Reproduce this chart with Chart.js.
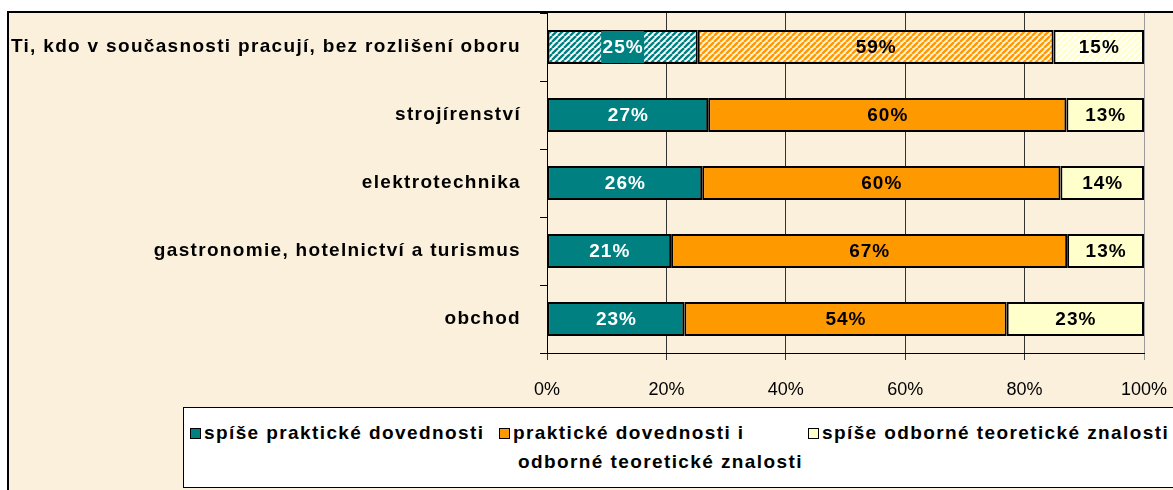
<!DOCTYPE html>
<html><head><meta charset="utf-8">
<script src="https://cdn.jsdelivr.net/npm/chart.js@4.4.1/dist/chart.umd.min.js"></script>
<style>
html,body{margin:0;padding:0;background:#fff;}
#wrap{position:relative;width:1173px;height:490px;overflow:hidden;}
#c{position:absolute;left:0;top:0;}
#legend{position:absolute;left:183px;top:407px;width:1100px;height:79px;background:#fff;border:1px solid #000;
  font:bold 19px "Liberation Sans",Arial,sans-serif;letter-spacing:1.4px;color:#000;}
.it{position:absolute;white-space:nowrap;line-height:20px;}
.sw{position:absolute;width:9px;height:9px;border:1px solid #000;}
</style></head>
<body>
<div id="wrap"><canvas id="c" width="1173" height="490"></canvas><div id="legend"></div></div>
<script>
const categories = ["Ti, kdo v současnosti pracují, bez rozlišení oboru","strojírenství","elektrotechnika","gastronomie, hotelnictví a turismus","obchod"];
const seriesNames = ["spíše praktické dovednosti","praktické dovednosti i odborné teoretické znalosti","spíše odborné teoretické znalosti"];
const practical   = [25, 27, 26, 21, 23];
const both        = [59, 60, 60, 67, 54];
const theoretical = [15, 13, 14, 13, 23];
const xTickLabels = ["0%","20%","40%","60%","80%","100%"];

const seriesValues = [practical, both, theoretical];
const colors = ["#008080", "#FF9900", "#FFFFCC"];
const hatchBg = ["#FFFFFF", "#FFF4DC", "#FFFFFF"];
const FONT = '"Liberation Sans", Arial, sans-serif';

function makeHatch(fg, bg){
  const n = 6;
  const c = document.createElement('canvas'); c.width = n; c.height = n;
  const g = c.getContext('2d');
  g.fillStyle = bg; g.fillRect(0,0,n,n);
  g.strokeStyle = fg; g.lineWidth = 2.4;
  for (const o of [-n,0,n]) { g.beginPath(); g.moveTo(o,n); g.lineTo(o+n,0); g.stroke(); }
  return g.createPattern(c, 'repeat');
}

const rowSum = categories.map((_,i)=> practical[i]+both[i]+theoretical[i]);
const datasets = seriesValues.map((vals, s) => {
  const pat = makeHatch(colors[s], hatchBg[s]);
  return {
    label: seriesNames[s],
    data: vals.map((v,i)=> v / rowSum[i] * 100),
    raw: vals,
    backgroundColor: categories.map((_,i)=> i===0 ? pat : colors[s]),
    borderColor: '#000',
    borderWidth: 2,
    borderSkipped: false,
    barPercentage: 1,
    categoryPercentage: 0.5
  };
});

const bgPlugin = {
  id: 'bg',
  beforeDraw(chart){
    const ctx = chart.ctx;
    ctx.save();
    ctx.fillStyle = '#fff'; ctx.fillRect(0,0,chart.width,chart.height);
    ctx.fillStyle = '#FBF0DB'; ctx.fillRect(8,12,chart.width-8,chart.height-12);
    ctx.strokeStyle = '#000'; ctx.lineWidth = 2;
    ctx.beginPath(); ctx.moveTo(8,chart.height); ctx.lineTo(8,12); ctx.lineTo(chart.width,12); ctx.stroke();
    ctx.restore();
  }
};

const labelPlugin = {
  id: 'vals',
  afterDatasetsDraw(chart){
    const ctx = chart.ctx;
    ctx.save();
    ctx.font = 'bold 19px ' + FONT;
    ctx.letterSpacing = '1px';
    ctx.textAlign = 'center'; ctx.textBaseline = 'middle';
    chart.data.datasets.forEach((ds, s) => {
      const meta = chart.getDatasetMeta(s);
      meta.data.forEach((el, i) => {
        const txt = ds.raw[i] + '%';
        const cx = (el.x + el.base) / 2, cy = el.y;
        const w = ctx.measureText(txt).width;
        if (s === 0 && i === 0) {
          ctx.fillStyle = colors[0];
          ctx.fillRect(cx - w/2 - 1, cy - el.height/2 + 1, w + 2, el.height - 2);
        }
        ctx.fillStyle = s === 0 ? '#fff' : '#000';
        ctx.fillText(txt, cx + 0.5, cy + 1);
      });
    });
    ctx.letterSpacing = '0px';
    ctx.restore();
  }
};

function spacedLabels(scale, spacing){
  if (scale._spacedWrap) return;
  const orig = scale.drawLabels.bind(scale);
  scale.drawLabels = function(area){
    const ctx = scale.ctx;
    const prev = ctx.letterSpacing;
    ctx.letterSpacing = spacing;
    orig(area);
    ctx.letterSpacing = prev || '0px';
  };
  scale._spacedWrap = true;
}

new Chart(document.getElementById('c'), {
  type: 'bar',
  data: { labels: categories, datasets },
  options: {
    indexAxis: 'y',
    responsive: false,
    animation: false,
    devicePixelRatio: 1,
    layout: { padding: { left: 0, top: 13, right: 29, bottom: 0 } },
    plugins: { legend: { display: false }, tooltip: { enabled: false } },
    scales: {
      x: {
        stacked: true, min: 0, max: 100,
        ticks: { stepSize: 20, color: '#000', font: { family: FONT, size: 18 }, padding: 19,
                 callback: v => xTickLabels[Math.round(v/20)], maxRotation: 0 },
        grid: { color: c => c.index === 5 ? '#9A9A9A' : '#333', lineWidth: 1, tickLength: 7 },
        border: { color: '#000', width: 1 },
        afterFit: s => { s.height = 137; s.paddingLeft = 0; s.paddingRight = 0; }
      },
      y: {
        stacked: true,
        ticks: { color: '#000', font: { family: FONT, size: 19, weight: 'bold' }, padding: 19, autoSkip: false },
        grid: { offset: true, drawOnChartArea: false, tickLength: 7, color: '#000' },
        border: { color: '#000', width: 1 },
        afterFit: s => { s.width = 547; s.paddingTop = 0; s.paddingBottom = 0; spacedLabels(s, '1.32px'); }
      }
    }
  },
  plugins: [bgPlugin, labelPlugin]
});

// legend (HTML text)
const lg = document.getElementById('legend');
const items = [
  { sw: [6, 20], lines: [[seriesNames[0], 20, 15]] },
  { sw: [315, 20], lines: [["praktické dovednosti i", 329, 15], ["odborné teoretické znalosti", 334, 44]] },
  { sw: [624, 20], lines: [[seriesNames[2], 638, 15]] }
];
items.forEach((it, s) => {
  const sw = document.createElement('div'); sw.className = 'sw';
  sw.style.left = it.sw[0] + 'px'; sw.style.top = it.sw[1] + 'px'; sw.style.background = colors[s];
  lg.appendChild(sw);
  it.lines.forEach(([t, x, y]) => {
    const d = document.createElement('div'); d.className = 'it';
    d.style.left = x + 'px'; d.style.top = y + 'px'; d.textContent = t;
    lg.appendChild(d);
  });
});
</script>
</body></html>
